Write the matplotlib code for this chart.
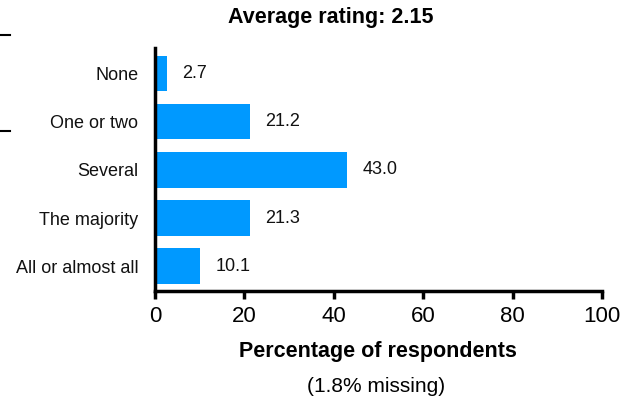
import matplotlib
matplotlib.use("Agg")
import matplotlib.pyplot as plt
from matplotlib.lines import Line2D

plt.rcParams['font.family'] = ['Liberation Sans', 'DejaVu Sans']

categories = ["None", "One or two", "Several", "The majority", "All or almost all"]
values = [2.7, 21.2, 43.0, 21.3, 10.1]
xticks = [0, 20, 40, 60, 80, 100]
title = "Average rating: 2.15"
xlabel = "Percentage of respondents"
note = "(1.8% missing)"

W, H = 629, 405
fig = plt.figure(figsize=(W / 100, H / 100), dpi=100)
ax = fig.add_axes([155 / W, 1 - 291 / H, (602 - 155) / W, (291 - 48) / H])

ypos = list(range(len(categories)))
ax.barh(ypos, values, height=0.73, color="#0099FF", zorder=2)
for y, v in zip(ypos, values):
    ax.annotate(f"{v:.1f}", xy=(v, y), xytext=(11, 0), textcoords="offset points",
                va="center", ha="left", fontsize=13, color="#111111")

ax.set_xlim(0, 100)
ax.set_ylim(len(categories) - 0.48, -0.54)
ax.set_yticks(ypos)
ax.set_yticklabels(categories, fontsize=13, color="#111111")
ax.set_xticks(xticks)
ax.set_xticklabels([str(t) for t in xticks], fontsize=16)
ax.tick_params(axis='y', length=0, pad=12)
ax.tick_params(axis='x', length=6, width=2.5, direction='out', pad=5)
for s in ["top", "right"]:
    ax.spines[s].set_visible(False)
for s in ["left", "bottom"]:
    ax.spines[s].set_linewidth(2.5)

fig.text(331 / W, 1 - 17 / H, title, ha="center", va="center",
         fontsize=15.5, fontweight="bold")
fig.text(378 / W, 1 - 352 / H, xlabel, ha="center", va="center",
         fontsize=15.5, fontweight="bold")
fig.text(376 / W, 1 - 386 / H, note, ha="center", va="center", fontsize=15)

# cropped fragments at the left edge
fig.add_artist(Line2D([0, 10 / W], [1 - 35 / H, 1 - 35 / H], color="black", lw=1.5))
fig.add_artist(Line2D([0, 10 / W], [1 - 131 / H, 1 - 131 / H], color="black", lw=1.5))

fig.savefig("out.png", dpi=100)
